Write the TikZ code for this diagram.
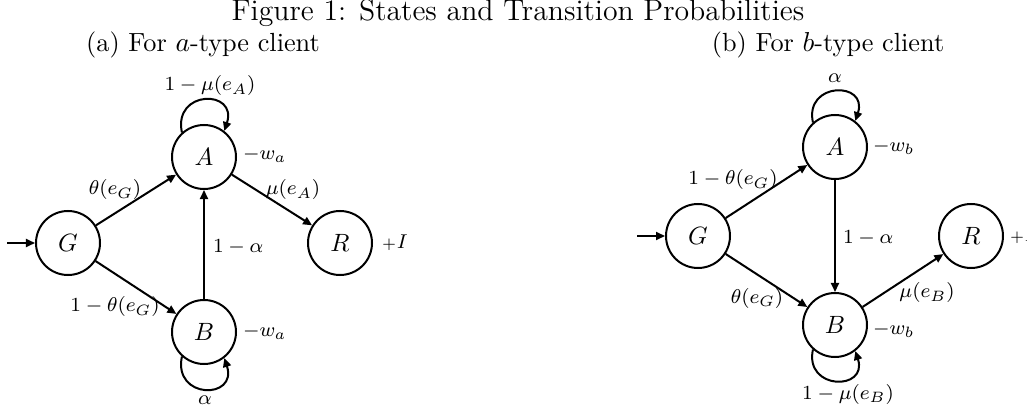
\documentclass[tikz,border=0pt]{standalone}
\usetikzlibrary{arrows.meta}
\newcommand{\smallplusI}{{\fontsize{6}{7}\selectfont$+$}\kern0.3pt$I$}
\begin{document}
\begin{tikzpicture}[x=0.4pt,y=0.4pt,
  state/.style={circle,draw,line width=0.8pt,minimum size=25.6pt,inner sep=0pt,font=\fontsize{10}{12}\selectfont},
  trans/.style={line width=0.8pt,-{Triangle[length=3.6pt,width=3.2pt]}},
  lab/.style={font=\fontsize{8.5}{10}\selectfont,inner sep=1pt},
  captext/.style={font=\fontsize{10.5}{12}\selectfont,inner sep=0pt}]
\useasboundingbox (0,0) rectangle (1027,-406);
\node[captext,font=\fontsize{11.9}{14}\selectfont] (title) at (518,-13) {Figure 1: States and Transition Probabilities};
\node[captext] (capa) at (203,-45) {(a) For $a$-type client};
\node[captext] (capb) at (828,-45) {(b) For $b$-type client};
% (a)
\node[state] (aA) at (204,-157) {$A$};
\node[state] (aG) at (68,-243) {$G$};
\node[state] (aR) at (340,-243) {$R$};
\node[state] (aB) at (204,-332) {$B$};
\coordinate (aS) at (7,-243);
\draw[trans] (aS) -- (aG);
\draw[trans] (aG) -- (aA);
\draw[trans] (aG) -- (aB);
\draw[trans] (aB) -- (aA);
\draw[trans] (aA) -- (aR);
\draw[trans] (aA.132) .. controls +(102:44) and +(72:44) .. (aA.52);
\draw[trans] (aB.228) .. controls +(258:44) and +(288:44) .. (aB.308);
\node[lab] (la1) at (210,-86) {$1-\mu(e_A)$};
\node[lab,anchor=west] (la2) at (240,-155) {$-w_a$};
\node[lab] (la3) at (115,-190) {$\theta(e_G)$};
\node[lab] (la4) at (293,-190) {$\mu(e_A)$};
\node[lab,anchor=west] (la5) at (210,-247) {$1-\alpha$};
\node[lab] (la6) at (115,-307) {$1-\theta(e_G)$};
\node[lab,anchor=west] (la7) at (240,-332) {$-w_a$};
\node[lab] (la8) at (205,-400) {$\alpha$};
\node[lab,anchor=west] (la9) at (379,-243) {\smallplusI};
% (b)
\node[state] (bA) at (835,-147) {$A$};
\node[state] (bG) at (698,-236) {$G$};
\node[state] (bR) at (971,-236) {$R$};
\node[state] (bB) at (835,-325) {$B$};
\coordinate (bS) at (637,-236);
\draw[trans] (bS) -- (bG);
\draw[trans] (bG) -- (bA);
\draw[trans] (bG) -- (bB);
\draw[trans] (bA) -- (bB);
\draw[trans] (bB) -- (bR);
\draw[trans] (bA.132) .. controls +(102:42) and +(72:42) .. (bA.52);
\draw[trans] (bB.228) .. controls +(258:42) and +(288:42) .. (bB.308);
\node[lab] (lb1) at (835,-78) {$\alpha$};
\node[lab,anchor=west] (lb2) at (870,-147) {$-w_b$};
\node[lab] (lb3) at (733,-180) {$1-\theta(e_G)$};
\node[lab,anchor=west] (lb4) at (840,-238) {$1-\alpha$};
\node[lab,anchor=west] (lb5) at (1007,-236) {\smallplusI};
\node[lab] (lb6) at (757,-298) {$\theta(e_G)$};
\node[lab] (lb7) at (927,-293) {$\mu(e_B)$};
\node[lab,anchor=west] (lb8) at (870,-330) {$-w_b$};
\node[lab] (lb9) at (848,-394) {$1-\mu(e_B)$};
\end{tikzpicture}
\end{document}
